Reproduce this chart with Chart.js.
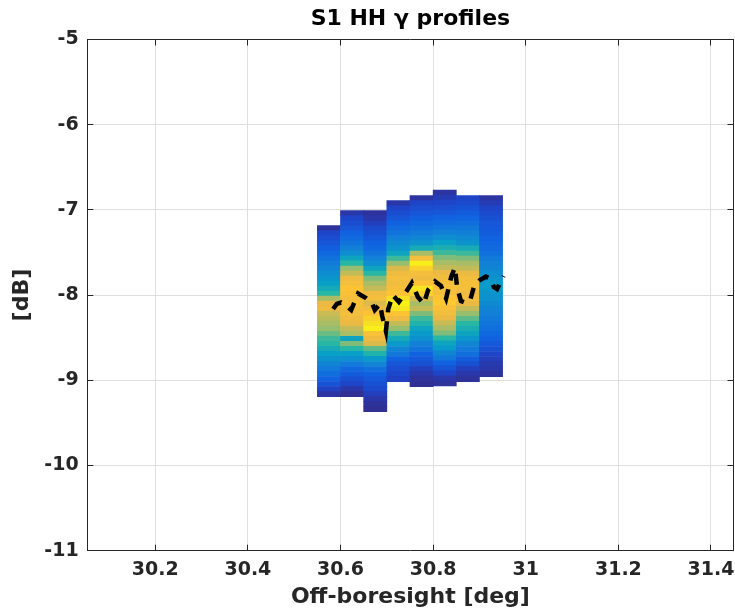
<!DOCTYPE html>
<html>
<head>
<meta charset="utf-8">
<script src="https://cdn.jsdelivr.net/npm/chart.js@4.4.1/dist/chart.umd.min.js"></script>
<style>
  html, body { margin: 0; padding: 0; background: #fff; }
  #wrap { width: 735px; height: 611px; }
</style>
</head>
<body>
<div id="wrap"><canvas id="chart" width="735" height="611"></canvas></div>
<script>
// axis ticks
const xTickValues = [30.2, 30.4, 30.6, 30.8, 31, 31.2, 31.4];
const xTickLabels = ["30.2", "30.4", "30.6", "30.8", "31", "31.2", "31.4"];
const yTickValues = [-11, -10, -9, -8, -7, -6, -5];
const yTickLabels = ["-11", "-10", "-9", "-8", "-7", "-6", "-5"];

// histogram columns (off-boresight bin centres, top edge of each column in dB)
const columnCenters = [30.575, 30.625, 30.675, 30.725, 30.775, 30.825, 30.875, 30.925];
const columnTops = [-7.185, -7.009, -7.009, -6.892, -6.833, -6.766, -6.833, -6.833];
const binHeight = 0.059;

// normalised density per bin, top to bottom
const col1 = [0.03, 0.1, 0.13, 0.16, 0.19, 0.22, 0.25, 0.28, 0.31, 0.34, 0.37, 0.4, 0.44, 0.5, 0.62, 0.7, 0.72, 0.66, 0.64, 0.62, 0.6, 0.56, 0.52, 0.5, 0.45, 0.4, 0.36, 0.32, 0.28, 0.24, 0.2, 0.15, 0.09, 0.04];
const col2 = [0.05, 0.1, 0.13, 0.16, 0.2, 0.23, 0.26, 0.3, 0.34, 0.42, 0.5, 0.6, 0.65, 0.72, 0.75, 0.8, 0.78, 0.75, 0.77, 0.74, 0.75, 0.72, 0.7, 0.65, 0.62, 0.42, 0.58, 0.5, 0.4, 0.35, 0.28, 0.22, 0.18, 0.14, 0.1, 0.05, 0.02];
const col3 = [0.03, 0.05, 0.08, 0.12, 0.14, 0.17, 0.2, 0.22, 0.26, 0.3, 0.34, 0.42, 0.5, 0.58, 0.62, 0.65, 0.72, 0.75, 0.68, 0.72, 0.8, 0.85, 0.9, 0.95, 0.78, 0.72, 0.68, 0.55, 0.48, 0.38, 0.32, 0.25, 0.2, 0.17, 0.14, 0.12, 0.08, 0.05, 0.03, 0.02];
const col4 = [0.05, 0.1, 0.13, 0.16, 0.2, 0.23, 0.26, 0.3, 0.33, 0.36, 0.42, 0.52, 0.6, 0.68, 0.72, 0.75, 0.73, 0.76, 0.8, 0.9, 0.97, 0.92, 0.8, 0.72, 0.65, 0.6, 0.52, 0.44, 0.38, 0.32, 0.27, 0.2, 0.16, 0.13, 0.11, 0.09];
const col5 = [0.04, 0.1, 0.13, 0.16, 0.19, 0.22, 0.25, 0.28, 0.32, 0.36, 0.45, 0.62, 0.75, 0.95, 0.85, 0.75, 0.72, 0.8, 0.92, 0.85, 0.68, 0.62, 0.65, 0.58, 0.52, 0.48, 0.42, 0.38, 0.35, 0.3, 0.26, 0.2, 0.17, 0.14, 0.08, 0.05, 0.03, 0.02];
const col6 = [0.04, 0.07, 0.1, 0.13, 0.16, 0.2, 0.23, 0.26, 0.3, 0.34, 0.4, 0.46, 0.52, 0.58, 0.62, 0.65, 0.7, 0.74, 0.76, 0.78, 0.76, 0.8, 0.82, 0.78, 0.74, 0.7, 0.66, 0.62, 0.58, 0.5, 0.42, 0.38, 0.32, 0.27, 0.2, 0.15, 0.1, 0.05, 0.03];
const col7 = [0.1, 0.12, 0.15, 0.18, 0.21, 0.24, 0.27, 0.3, 0.33, 0.36, 0.45, 0.52, 0.58, 0.62, 0.65, 0.7, 0.74, 0.76, 0.75, 0.72, 0.74, 0.7, 0.65, 0.6, 0.55, 0.5, 0.46, 0.42, 0.37, 0.32, 0.28, 0.24, 0.18, 0.14, 0.08, 0.05, 0.03];
const col8 = [0.04, 0.07, 0.1, 0.12, 0.14, 0.16, 0.17, 0.18, 0.2, 0.21, 0.23, 0.25, 0.28, 0.3, 0.32, 0.34, 0.36, 0.38, 0.38, 0.36, 0.35, 0.33, 0.31, 0.3, 0.28, 0.26, 0.24, 0.22, 0.2, 0.17, 0.14, 0.1, 0.08, 0.06, 0.05, 0.03];

// mean profile (dashed black)
const profileX = [30.584, 30.592, 30.601, 30.610, 30.623, 30.638, 30.655, 30.668, 30.674, 30.685, 30.690, 30.698, 30.703, 30.713, 30.726, 30.737, 30.754, 30.767, 30.780, 30.789, 30.804, 30.817, 30.828, 30.839, 30.847, 30.852, 30.860, 30.871, 30.880, 30.889, 30.901, 30.914, 30.925, 30.931, 30.938, 30.952];
const profileY = [-8.163, -8.104, -8.087, -8.116, -8.175, -7.981, -8.034, -8.093, -8.175, -8.104, -8.245, -8.421, -8.163, -7.999, -8.081, -7.999, -7.858, -8.022, -8.104, -7.940, -7.840, -7.893, -8.040, -7.788, -7.676, -7.917, -8.069, -8.093, -8.058, -7.887, -7.823, -7.782, -7.811, -7.905, -7.928, -7.776];

const parulaStops = [
  [0.0, [53, 42, 135]],
  [0.1, [30, 68, 200]],
  [0.2, [16, 98, 225]],
  [0.3, [18, 128, 214]],
  [0.4, [8, 160, 198]],
  [0.5, [40, 182, 165]],
  [0.6, [150, 190, 110]],
  [0.65, [195, 187, 88]],
  [0.7, [235, 186, 68]],
  [0.8, [253, 195, 52]],
  [0.9, [246, 224, 36]],
  [1.0, [249, 251, 14]],
];

const INK = "#262626";
const FONT = "DejaVu Sans";

function parula(v) {
  const t = Math.max(0, Math.min(1, v));
  for (let i = 1; i < parulaStops.length; i++) {
    const [p1, c1] = parulaStops[i];
    const [p0, c0] = parulaStops[i - 1];
    if (t <= p1) {
      const f = (t - p0) / (p1 - p0);
      const rgb = c0.map((c, k) => Math.round(c + (c1[k] - c) * f));
      return `rgb(${rgb.join(",")})`;
    }
  }
  return "rgb(249,251,14)";
}

const columns = [col1, col2, col3, col4, col5, col6, col7, col8];
const cells = [];
const cellColors = [];
columns.forEach((vals, c) => {
  vals.forEach((v, i) => {
    const hi = columnTops[c] - i * binHeight;
    cells.push({ x: columnCenters[c], y: [hi - binHeight, hi] });
    cellColors.push(parula(v));
  });
});

const profile = profileX.map((x, i) => ({ x, y: profileY[i] }));

const tickFont = { family: FONT, size: 19, weight: "bold" };
const titleFont = { family: FONT, size: 22, weight: "bold" };
const X_MIN = 30.0532;
const X_MAX = 31.4486;

function setTicks(values) {
  return (scale) => {
    scale.ticks = values.map((value) => ({ value }));
  };
}

// fix axis box sizes and drop the label overhang padding
function fitBox(w, h) {
  return (s) => {
    if (w !== null) s.width = w;
    if (h !== null) s.height = h;
    s.paddingLeft = 0;
    s.paddingRight = 0;
    s.paddingTop = 0;
    s.paddingBottom = 0;
  };
}

const gridBase = { color: "#dfdfdf", tickColor: INK, tickLength: -6, drawTicks: true, offset: false };

new Chart(document.getElementById("chart"), {
  type: "bar",
  data: {
    datasets: [
      {
        type: "line",
        data: profile,
        xAxisID: "x",
        yAxisID: "y",
        borderColor: "#000",
        borderWidth: 4.5,
        borderDash: [11, 9],
        borderCapStyle: "butt",
        pointRadius: 0,
        tension: 0,
        order: 0,
      },
      {
        type: "bar",
        data: cells,
        xAxisID: "x",
        yAxisID: "y",
        backgroundColor: cellColors,
        borderWidth: 0,
        barPercentage: 1,
        categoryPercentage: 1,
        grouped: false,
        order: 1,
      },
    ],
  },
  options: {
    responsive: false,
    animation: false,
    devicePixelRatio: 1,
    layout: { padding: { left: 0, right: 1.5, top: 0, bottom: 0 } },
    plugins: {
      legend: { display: false },
      tooltip: { enabled: false },
      title: { display: false },
    },
    scales: {
      x: {
        type: "linear",
        position: "bottom",
        min: X_MIN,
        max: X_MAX,
        offset: false,
        afterBuildTicks: setTicks(xTickValues),
        afterFit: fitBox(null, 60.3),
        ticks: {
          callback: (v, i) => xTickLabels[i],
          font: tickFont,
          color: INK,
          padding: 14.4,
          maxRotation: 0,
          autoSkip: false,
        },
        grid: gridBase,
        border: { color: INK, width: 1 },
        title: { display: true, text: "Off-boresight [deg]", color: INK, font: titleFont, padding: { top: 0, bottom: 0.8 } },
      },
      y: {
        type: "linear",
        position: "left",
        min: -11,
        max: -5,
        afterBuildTicks: setTicks(yTickValues),
        afterFit: fitBox(87.3, null),
        ticks: {
          callback: (v, i) => yTickLabels[i],
          font: tickFont,
          color: INK,
          padding: 14.7,
        },
        grid: gridBase,
        border: { color: INK, width: 1 },
        title: { display: true, text: "[dB]", color: INK, font: titleFont, padding: { top: 9.3, bottom: 0 } },
      },
      x2: {
        type: "linear",
        position: "top",
        min: X_MIN,
        max: X_MAX,
        offset: false,
        afterBuildTicks: setTicks(xTickValues),
        afterFit: fitBox(null, 39.5),
        ticks: { display: false },
        grid: { ...gridBase, drawOnChartArea: false },
        border: { color: INK, width: 1 },
        // chart title sits on the top axis so it centres over the plot area
        title: { display: true, text: "S1 HH γ profiles", color: "#000", font: titleFont, padding: { top: 6, bottom: 0 } },
      },
      y2: {
        type: "linear",
        position: "right",
        min: -11,
        max: -5,
        afterBuildTicks: setTicks(yTickValues),
        afterFit: fitBox(0, null),
        ticks: { display: false },
        grid: { ...gridBase, drawOnChartArea: false },
        border: { color: INK, width: 1 },
      },
    },
  },
});
</script>
</body>
</html>
